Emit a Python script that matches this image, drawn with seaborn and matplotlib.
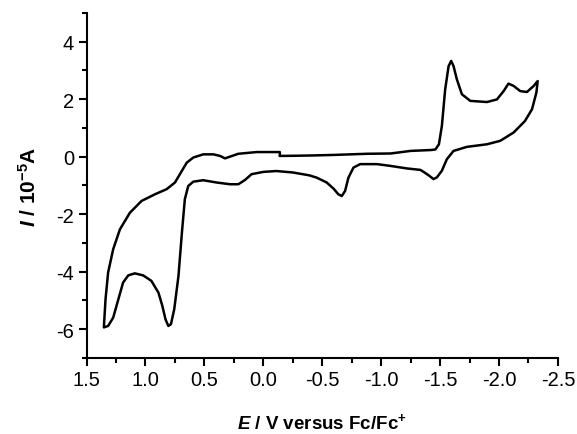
import numpy as np
import matplotlib
import matplotlib.pyplot as plt
from matplotlib.ticker import MultipleLocator, FormatStrFormatter
import seaborn as sns
import pandas as pd

# cyclic voltammogram, one continuous scan (E in V vs Fc/Fc+, I in 1e-5 A)
potential = [-0.14, -0.25, -0.4, -0.6, -0.88, -1.08, -1.25, -1.42, -1.46, -1.49,
             -1.515, -1.543, -1.572, -1.594, -1.614, -1.642, -1.685, -1.756, -1.897, -1.982,
             -2.039, -2.08, -2.124, -2.18, -2.237, -2.294, -2.328,
             -2.317, -2.28, -2.22, -2.124, -2.01, -1.897, -1.727, -1.614, -1.557, -1.515,
             -1.473, -1.444, -1.40, -1.345, -1.331, -1.218, -1.076, -0.963, -0.822, -0.765,
             -0.722, -0.694, -0.666, -0.637, -0.595, -0.538, -0.453, -0.39, -0.25, -0.11,
             0.0, 0.1, 0.155, 0.212, 0.283, 0.396, 0.51, 0.594, 0.637, 0.666,
             0.69, 0.72, 0.756, 0.784, 0.806, 0.83, 0.857, 0.89, 0.95, 1.02,
             1.09, 1.146, 1.19, 1.23, 1.274, 1.317, 1.353,
             1.339, 1.317, 1.274, 1.217, 1.132, 1.033, 0.92, 0.82, 0.75, 0.708,
             0.65, 0.594, 0.51, 0.424, 0.368, 0.325, 0.283, 0.212, 0.056, -0.14, -0.14]
current = [0.025, 0.03, 0.04, 0.06, 0.1, 0.11, 0.2, 0.23, 0.25, 0.43,
           1.07, 2.34, 3.15, 3.33, 3.15, 2.69, 2.17, 1.94, 1.9, 1.99,
           2.28, 2.54, 2.46, 2.28, 2.25, 2.46, 2.63,
           2.23, 1.65, 1.24, 0.84, 0.55, 0.43, 0.34, 0.2, -0.09, -0.49,
           -0.72, -0.78, -0.64, -0.49, -0.46, -0.41, -0.32, -0.26, -0.26, -0.38,
           -0.73, -1.19, -1.37, -1.31, -1.11, -0.9, -0.73, -0.65, -0.55, -0.5,
           -0.53, -0.61, -0.81, -0.96, -0.96, -0.9, -0.82, -0.87, -1.02, -1.48,
           -2.6, -4.15, -5.31, -5.83, -5.89, -5.66, -5.19, -4.73, -4.32, -4.13,
           -4.06, -4.13, -4.38, -4.96, -5.6, -5.89, -5.94,
           -4.96, -4.03, -3.22, -2.53, -1.95, -1.54, -1.31, -1.13, -0.9, -0.61,
           -0.21, -0.03, 0.08, 0.08, 0.026, -0.06, 0.0, 0.1, 0.16, 0.16, 0.025]

x_ticks = [1.5, 1.0, 0.5, 0.0, -0.5, -1.0, -1.5, -2.0, -2.5]
y_ticks = [-6, -4, -2, 0, 2, 4]

sns.set_style('ticks')
plt.rcParams['font.family'] = ['Liberation Sans', 'DejaVu Sans']
plt.rcParams['axes.unicode_minus'] = False
plt.rcParams['mathtext.fontset'] = 'custom'
plt.rcParams['mathtext.it'] = 'Liberation Sans:italic:bold'
plt.rcParams['mathtext.rm'] = 'Liberation Sans:bold'
plt.rcParams['mathtext.bf'] = 'Liberation Sans:bold'

df = pd.DataFrame({'E': potential, 'I': current})

fig = plt.figure(figsize=(5.77, 4.35), dpi=100)
ax = fig.add_axes([0.150, 0.175, 0.817, 0.793])
sns.lineplot(data=df, x='E', y='I', sort=False, estimator=None, color='black', lw=1.8, ax=ax)

ax.set_xlim(1.5, -2.5)
ax.set_ylim(-7, 5)
ax.set_xticks(x_ticks)
ax.set_yticks(y_ticks)
ax.xaxis.set_minor_locator(MultipleLocator(0.25))
ax.yaxis.set_minor_locator(MultipleLocator(1))
ax.xaxis.set_major_formatter(FormatStrFormatter('%.1f'))
ax.tick_params(which='major', length=6, width=1.5, labelsize=14.5, pad=3,
               color='black', labelcolor='black')
ax.tick_params(which='minor', length=3.5, width=1.5, color='black')
for s in ['top', 'right']:
    ax.spines[s].set_visible(False)
for s in ['left', 'bottom']:
    ax.spines[s].set_linewidth(1.5)
    ax.spines[s].set_color('black')

ax.set_xlabel(r'$\mathit{E}$ / V versus Fc/Fc$^{+}$', fontsize=13.5, fontweight='bold',
              labelpad=16, color='black')
ax.set_ylabel(r'$\mathit{I}$ / 10$^{-5}$A', fontsize=15, fontweight='bold',
              labelpad=12, color='black')

plt.savefig('out.png', dpi=100)
